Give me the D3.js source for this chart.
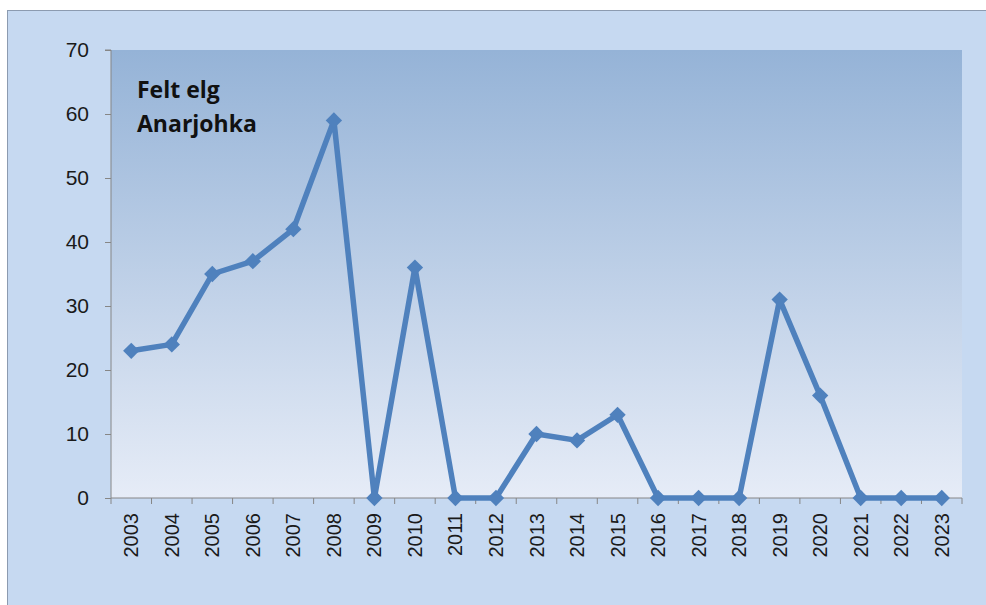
<html>
<head>
<script src="https://d3js.org/d3.v7.min.js"></script>
<style>
  body { margin: 0; background: #fff; }
  text { font-family: "Open Sans", "DejaVu Sans", sans-serif; }
</style>
</head>
<body>
<svg id="chart" width="986" height="605"></svg>
<script>
var years = ["2003","2004","2005","2006","2007","2008","2009","2010","2011","2012","2013",
             "2014","2015","2016","2017","2018","2019","2020","2021","2022","2023"];
var felt = [23, 24, 35, 37, 42, 59, 0, 36, 0, 0, 10, 9, 13, 0, 0, 0, 31, 16, 0, 0, 0];
var yTicks = [0, 10, 20, 30, 40, 50, 60, 70];
var titleLines = ["Felt elg", "Anarjohka"];

var svg = d3.select("#chart");

// outer chart area
svg.append("rect")
  .attr("x", 7.5).attr("y", 10.5)
  .attr("width", 990).attr("height", 600)
  .attr("fill", "#c6d9f1")
  .attr("stroke", "#8c9bb0").attr("stroke-width", 1);

var pLeft = 111, pRight = 962, pTop = 50, pBottom = 498;

var defs = svg.append("defs");
var grad = defs.append("linearGradient").attr("id", "plotbg")
  .attr("x1", 0).attr("y1", 0).attr("x2", 0).attr("y2", 1);
grad.append("stop").attr("offset", "0%").attr("stop-color", "#95b3d7");
grad.append("stop").attr("offset", "100%").attr("stop-color", "#e6ecf7");

svg.append("rect")
  .attr("x", pLeft).attr("y", pTop)
  .attr("width", pRight - pLeft).attr("height", pBottom - pTop)
  .attr("fill", "url(#plotbg)");

var x = d3.scaleBand().domain(years).range([pLeft, pRight]);
var y = d3.scaleLinear().domain([0, 70]).range([pBottom, pTop]);

// y axis
var yAx = svg.append("g")
  .attr("transform", "translate(" + pLeft + ",0)")
  .call(d3.axisLeft(y).tickValues(yTicks).tickSize(6).tickPadding(16));
yAx.select(".domain").attr("stroke", "#868686").attr("d", "M-6," + pTop + "H0V" + pBottom);
yAx.selectAll(".tick line").attr("stroke", "#868686");
yAx.selectAll("text").style("font-size", "21px").attr("fill", "#1a1a1a")
  .style("font-family", "'Liberation Sans', Arial, sans-serif");

// x axis
var xAx = svg.append("g")
  .attr("transform", "translate(0," + pBottom + ")")
  .call(d3.axisBottom(x).tickSize(0).tickPadding(0));
xAx.select(".domain").attr("stroke", "#868686").attr("d", "M" + pLeft + ",0H" + pRight);
xAx.selectAll(".tick text")
  .attr("transform", "rotate(-90)")
  .attr("x", -15).attr("y", 0).attr("dy", "0.35em")
  .style("text-anchor", "end")
  .style("font-size", "20px")
  .style("font-family", "'Liberation Sans', Arial, sans-serif")
  .attr("fill", "#1a1a1a");

// boundary ticks on x axis
svg.append("g").selectAll("line")
  .data(years.concat(["end"]))
  .join("line")
  .attr("x1", function(d, i) { return pLeft + i * x.step(); })
  .attr("x2", function(d, i) { return pLeft + i * x.step(); })
  .attr("y1", pBottom).attr("y2", pBottom + 6)
  .attr("stroke", "#868686");

// line
var line = d3.line()
  .x(function(d, i) { return x(years[i]) + x.bandwidth() / 2; })
  .y(function(d) { return y(d); });

svg.append("path")
  .datum(felt)
  .attr("d", line)
  .attr("fill", "none")
  .attr("stroke", "#4f81bd")
  .attr("stroke-width", 5.5)
  .attr("stroke-linejoin", "round");

svg.append("g").selectAll("path")
  .data(felt)
  .join("path")
  .attr("d", d3.symbol().type(d3.symbolDiamond2).size(170))
  .attr("transform", function(d, i) {
    return "translate(" + (x(years[i]) + x.bandwidth() / 2) + "," + y(d) + ")";
  })
  .attr("fill", "#4f81bd");

// title
svg.append("g").selectAll("text")
  .data(titleLines)
  .join("text")
  .attr("x", 137)
  .attr("y", function(d, i) { return 98 + i * 34; })
  .style("font-size", "23px")
  .style("font-weight", "bold")
  .attr("fill", "#111")
  .text(function(d) { return d; });
</script>
</body>
</html>
